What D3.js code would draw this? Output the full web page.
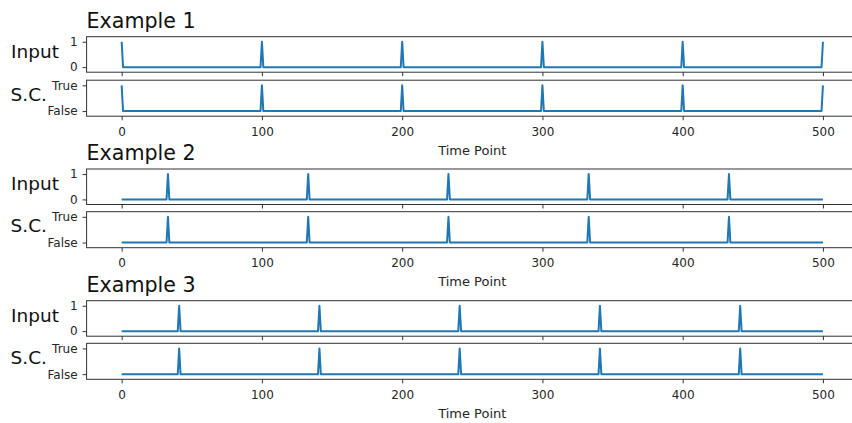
<!DOCTYPE html>
<html>
<head>
<meta charset="utf-8">
<script src="https://cdn.jsdelivr.net/npm/d3@7"></script>
<style>
  html, body { margin: 0; padding: 0; background: #fff; }
  svg { display: block; }
  text { font-family: "DejaVu Sans", sans-serif; }
</style>
</head>
<body>
<script>
// Pulse trains: time points where the input fires (value 1); 0 everywhere else.
const timeStart = 0;
const timeEnd = 500;
const exampleTitles = ["Example 1", "Example 2", "Example 3"];
const inputSpikes1 = [0, 100, 200, 300, 400, 500];
const inputSpikes2 = [33, 133, 233, 333, 433];
const inputSpikes3 = [41, 141, 241, 341, 441];
// S.C. output (True at these time points, False elsewhere)
const scSpikes1 = [0, 100, 200, 300, 400, 500];
const scSpikes2 = [33, 133, 233, 333, 433];
const scSpikes3 = [41, 141, 241, 341, 441];
const xTicks = [0, 100, 200, 300, 400, 500];
const inputTicks = [0, 1];
const scTicks = [0, 1];
const scTickLabels = ["False", "True"];

const examples = [
  { title: exampleTitles[0], input: inputSpikes1, sc: scSpikes1 },
  { title: exampleTitles[1], input: inputSpikes2, sc: scSpikes2 },
  { title: exampleTitles[2], input: inputSpikes3, sc: scSpikes3 }
];

const W = 852, H = 423;
const svg = d3.select("body").append("svg").attr("width", W).attr("height", H);

const left = 86.6, right = 858;
const x = d3.scaleLinear().domain([-25, 525]).range([left, right]);

const inputTops = [36.7, 169, 300.7];
const scTops = [80.2, 211.7, 343.3];
const inputH = 35.5, scH = 36;

const blue = "#1f77b4";
const spineColor = "#333";
const textColor = "#262626";

function toSeries(spikes) {
  const set = new Set(spikes);
  return d3.range(timeStart, timeEnd + 1).map(t => ({ t, v: set.has(t) ? 1 : 0 }));
}

function panel(top, h, spikes, yTicks, yFormat, showXLabels) {
  const y = d3.scaleLinear().domain([-0.2, 1.2]).range([top + h, top]);
  const g = svg.append("g");

  // data line
  const line = d3.line().x(d => x(d.t)).y(d => y(d.v));
  g.append("path")
    .datum(toSeries(spikes))
    .attr("d", line)
    .attr("fill", "none")
    .attr("stroke", blue)
    .attr("stroke-width", 2)
    .attr("stroke-linejoin", "round");

  // y axis
  const ya = g.append("g")
    .attr("transform", `translate(${left},0)`)
    .call(d3.axisLeft(y).tickValues(yTicks).tickFormat(yFormat).tickSize(4).tickSizeOuter(0).tickPadding(5));
  ya.select(".domain").remove();
  ya.selectAll("line").attr("stroke", spineColor);
  ya.selectAll("text").attr("fill", textColor).attr("font-size", 12).attr("font-family", "DejaVu Sans");

  // x axis
  const xa = g.append("g")
    .attr("transform", `translate(0,${top + h})`)
    .call(d3.axisBottom(x).tickValues(xTicks).tickFormat(showXLabels ? d3.format("d") : () => "")
      .tickSize(4).tickSizeOuter(0).tickPadding(7));
  xa.select(".domain").remove();
  xa.selectAll("line").attr("stroke", spineColor);
  xa.selectAll("text").attr("fill", textColor).attr("font-size", 12).attr("font-family", "DejaVu Sans");

  // frame
  g.append("rect")
    .attr("x", left).attr("y", top)
    .attr("width", right - left).attr("height", h)
    .attr("fill", "none")
    .attr("stroke", spineColor)
    .attr("stroke-width", 1);
}

examples.forEach((ex, i) => {
  const it = inputTops[i], st = scTops[i];

  svg.append("text")
    .attr("x", left).attr("y", it - 9)
    .attr("font-size", 20.6).attr("fill", "#111")
    .text(ex.title);

  panel(it, inputH, ex.input, inputTicks, d3.format("d"), false);
  panel(st, scH, ex.sc, scTicks, d => scTickLabels[d], true);

  svg.append("text")
    .attr("x", 59).attr("y", it + 21)
    .attr("text-anchor", "end")
    .attr("font-size", 18.5).attr("fill", "#111")
    .text("Input");

  svg.append("text")
    .attr("x", 47).attr("y", st + 20.5)
    .attr("text-anchor", "end")
    .attr("font-size", 18.5).attr("fill", "#111")
    .text("S.C.");

  svg.append("text")
    .attr("x", (left + right) / 2).attr("y", st + scH + 38.5)
    .attr("text-anchor", "middle")
    .attr("font-size", 13).attr("fill", textColor)
    .text("Time Point");
});
</script>
</body>
</html>
